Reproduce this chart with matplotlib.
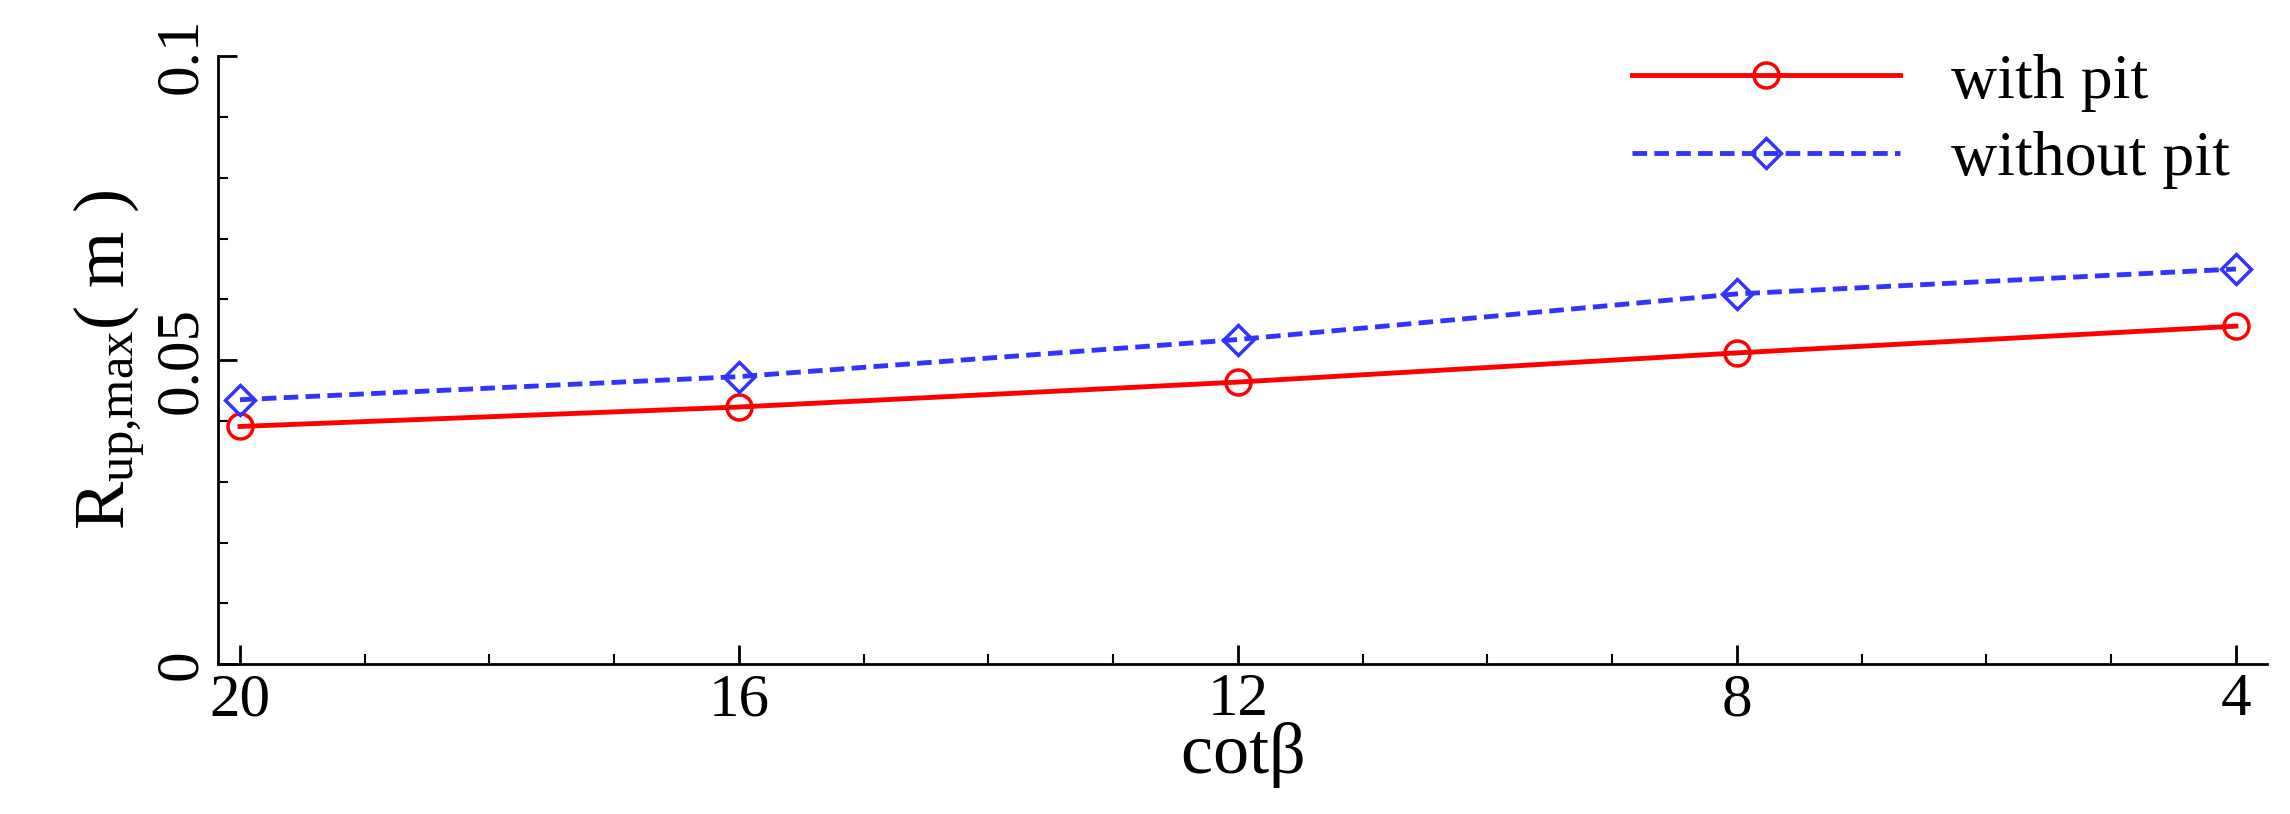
import matplotlib
matplotlib.use("Agg")
import matplotlib.pyplot as plt
from matplotlib.ticker import MultipleLocator

cot = [20, 16, 12, 8, 4]
with_pit = [0.0391, 0.0423, 0.0464, 0.0512, 0.0556]
without_pit = [0.0435, 0.0473, 0.0534, 0.0609, 0.0650]

plt.rcParams['font.family'] = ['Liberation Serif', 'DejaVu Serif']
plt.rcParams['mathtext.fontset'] = 'custom'
plt.rcParams['mathtext.rm'] = 'Liberation Serif'
plt.rcParams['mathtext.it'] = 'Liberation Serif'

fig = plt.figure(figsize=(22.9, 8.14), dpi=100)
ax = fig.add_axes([0.095, 0.184, 0.895, 0.747])
ax.plot(cot, with_pit, color='red', lw=3.5, marker='o', ms=18, mfc='none', mew=2.5, label='with pit')
ax.plot(cot, without_pit, color='#3333ff', lw=3.5, ls=(0, (3, 1.5)), marker='D', ms=15, mfc='none', mew=2.5, label='without pit')
ax.set_xlim(20.18, 3.75)
ax.set_ylim(0, 0.1)
ax.set_xticks(cot)
ax.set_xticklabels([str(c) for c in cot])
ax.set_yticks([0, 0.05, 0.1])
ax.set_yticklabels(['0', '0.05', '0.1'], rotation=90, va='center')
ax.xaxis.set_minor_locator(MultipleLocator(1))
ax.yaxis.set_minor_locator(MultipleLocator(0.01))
ax.tick_params(direction='in', which='major', length=14, width=2, labelsize=44, pad=6)
ax.tick_params(direction='in', which='minor', length=7, width=1.5)
for s in ['top', 'right']:
    ax.spines[s].set_visible(False)
for s in ['left', 'bottom']:
    ax.spines[s].set_linewidth(2)
ax.set_xlabel(r'cot$\beta$', fontsize=52, labelpad=-6)
ax.set_ylabel(r'R$_{\rm up{,}max}$( m )', fontsize=52, labelpad=4)
ax.legend(loc='upper right', bbox_to_anchor=(1.01, 1.1), frameon=False, fontsize=46, handlelength=4.2, handletextpad=0.8, labelspacing=0.3)
fig.savefig('out.png', dpi=100)
